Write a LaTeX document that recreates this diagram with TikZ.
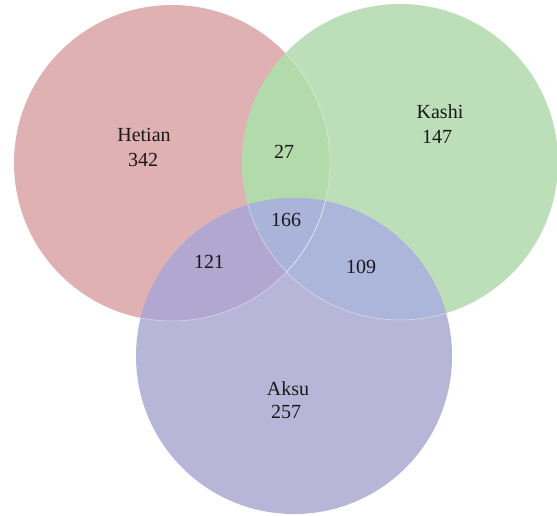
\documentclass[tikz,border=0pt]{standalone}
\usepackage{fontspec}
\setmainfont{Liberation Serif}
\definecolor{hcol}{RGB}{223,177,179}
\definecolor{kcol}{RGB}{188,222,184}
\definecolor{acol}{RGB}{183,182,216}
\definecolor{hkcol}{RGB}{179,218,171}
\definecolor{hacol}{RGB}{177,167,208}
\definecolor{kacol}{RGB}{171,182,218}
\definecolor{hkacol}{RGB}{170,180,218}
\tikzset{
  lbl/.style={anchor=base, inner sep=0pt, font=\fontsize{20}{24}\selectfont, text=black!90},
  rim/.style={draw=white, draw opacity=0.55, line width=0.5pt}
}
\begin{document}
\begin{tikzpicture}[x=1pt,y=-1pt]
\useasboundingbox (0,0) rectangle (557,516);
\coordinate (H) at (172,163);
\coordinate (K) at (400,162);
\coordinate (A) at (294,356);
\def\R{158}
% base circles
\fill[hcol] (H) circle[radius=\R];
\fill[kcol] (K) circle[radius=\R];
\fill[acol] (A) circle[radius=\R];
% overlaps
\begin{scope}\clip (H) circle[radius=\R]; \fill[hkcol] (K) circle[radius=\R];\end{scope}
\begin{scope}\clip (H) circle[radius=\R]; \fill[hacol] (A) circle[radius=\R];\end{scope}
\begin{scope}\clip (K) circle[radius=\R]; \fill[kacol] (A) circle[radius=\R];\end{scope}
\begin{scope}\clip (H) circle[radius=\R]; \clip (K) circle[radius=\R]; \fill[hkacol] (A) circle[radius=\R];\end{scope}
% faint rims seen through upper circles
\begin{scope}\clip (K) circle[radius=\R]; \path[rim] (H) circle[radius=\R];\end{scope}
\begin{scope}\clip (A) circle[radius=\R]; \path[rim] (H) circle[radius=\R]; \path[rim] (K) circle[radius=\R];\end{scope}
% labels
\node[lbl] (hname) at (144,142) {Hetian};
\node[lbl] (hnum) at (143,167) {342};
\node[lbl] (kname) at (440,119) {Kashi};
\node[lbl] (knum) at (437,143) {147};
\node[lbl] (aname) at (288,395) {Aksu};
\node[lbl] (anum) at (286,418) {257};
\node[lbl] (hk) at (284,158) {27};
\node[lbl] (hka) at (286,226) {166};
\node[lbl] (ha) at (209,268) {121};
\node[lbl] (ka) at (361,273) {109};
\end{tikzpicture}
\end{document}
